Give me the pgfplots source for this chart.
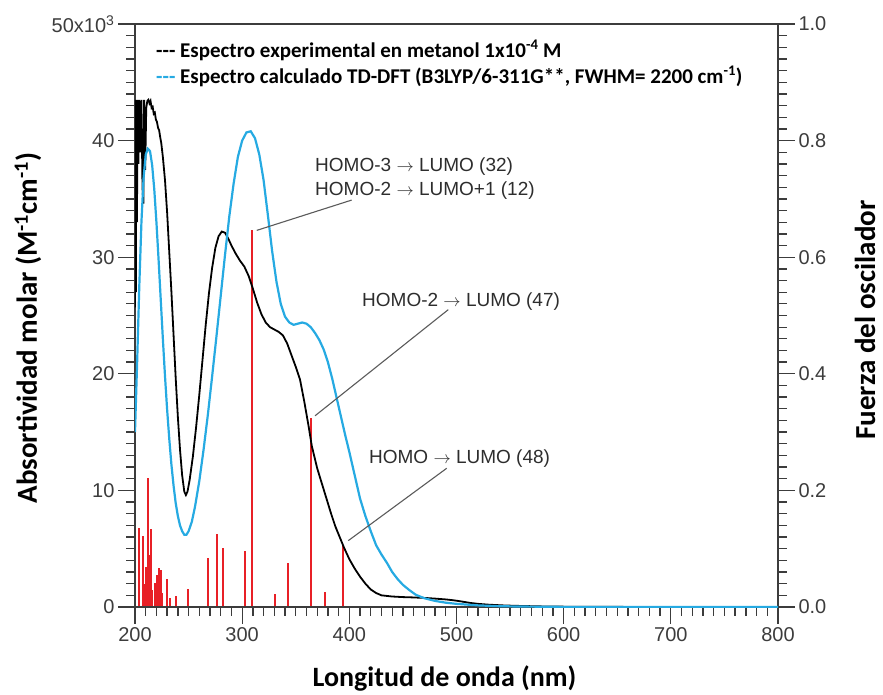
\documentclass[border=0pt]{standalone}
\usepackage{pgfplots}
\pgfplotsset{compat=1.18}
\usepackage{fontspec}
\setmainfont{Liberation Sans}
\newfontfamily\carl{Carlito}
\definecolor{cblue}{RGB}{38,170,226}
\definecolor{cred}{RGB}{232,32,38}
\definecolor{tickgray}{RGB}{60,60,60}
\definecolor{annogray}{RGB}{45,45,45}
\definecolor{leadgray}{RGB}{90,90,90}
\pgfplotsset{
  mybase/.style={
    scale only axis, width=643pt, height=583pt,
    xmin=200, xmax=800,
    tick align=inside,
    major tick length=-17pt, minor tick length=-9pt,
    every tick/.append style={line width=1.3pt, color=tickgray},
    major tick style={line width=1.3pt, color=tickgray},
    minor tick style={line width=1.3pt, color=tickgray},
    axis line style={line width=1.3pt, color=tickgray},
    tick label style={font=\fontsize{20}{24}\selectfont, text=tickgray},
    /pgf/number format/assume math mode=true,
  }
}
\begin{document}
\begin{tikzpicture}
\useasboundingbox (-135pt,-87pt) rectangle (748pt,607pt);
% right axis: oscillator strengths
\begin{axis}[mybase, at={(0pt,0pt)}, anchor=south west, axis y line*=right, hide x axis,
  ymin=0, ymax=1, ytick={0,0.2,0.4,0.6,0.8,1.0}, minor y tick num=9,
  yticklabel style={xshift=17pt, /pgf/number format/.cd, fixed, fixed zerofill, precision=1}]
\addplot[ycomb, cred, line width=1.8pt, mark=none] coordinates {
(203.7,0.136) (207.8,0.122) (209.0,0.040) (210.0,0.069) (211.8,0.222)
(213.0,0.090) (214.9,0.133) (216.0,0.030) (218.7,0.041) (220.5,0.055)
(221.5,0.036) (222.4,0.067) (224.0,0.064) (225.5,0.024) (229.9,0.048)
(232.4,0.015) (238.0,0.019) (249.8,0.031) (268.4,0.084) (276.2,0.125)
(281.8,0.102) (302.6,0.096) (308.9,0.646) (330.6,0.022) (342.4,0.076)
(364.2,0.324) (377.5,0.025) (394.3,0.107)
};
\end{axis}
% left axis: molar absorptivity
\begin{axis}[mybase, at={(0pt,0pt)}, anchor=south west, ymin=0, ymax=50,
  xtick={200,300,400,500,600,700,800}, ytick={0,10,20,30,40,50},
  yticklabels={0,10,20,30,40,{50x10\textsuperscript{3}}},
  xticklabel style={yshift=-17pt}, yticklabel style={xshift=-17pt},
  minor x tick num=9, minor y tick num=9,
  xtick pos=bottom, ytick pos=left]
\addplot[black, line width=1.8pt, mark=none] coordinates {
(200,25.7) (200.4,43.5) (200.8,27) (201.2,43.5) (201.8,33) (202.5,43.5)
(203.2,38) (204,43.5) (205,39) (206,43.5) (207,36) (207.8,34.6) (208.5,43.5)
(209.5,37.5) (210.5,42.8) (211.5,43.4) (212.5,43.5) (213.5,43.2) (214.5,43.4)
(215.5,42.8) (216.5,42.9) (217.5,42.3) (218.5,42.4) (219.5,41.8) (220.5,41.6)
(221.5,41.1) (222.5,40.9) (223.5,40.3) (224.5,39.8) (226,38.6) (228,36.6)
(230,33.8) (232,30.4) (234,27) (236,23.3) (238,19.6) (240,16.3) (242,13.5)
(244,11.3) (246,9.9) (247.5,9.6) (249,9.9) (251,10.9) (254,12.9) (257,15.4)
(260,18.2) (263,21.2) (266,24.2) (269,26.9) (272,29.1) (275,30.8) (278,31.8)
(281,32.2) (284,32.1) (287,31.6) (290,31.0) (294,30.3) (298,29.7) (302,29.2)
(306,28.4) (310,27.3) (314,26.1) (318,25.1) (322,24.4) (326,24.0) (330,23.8)
(334,23.6) (338,23.3) (342,22.6) (346,21.6) (350,20.6) (354,19.5) (358,17.6)
(362,15.5) (365,13.8) (370,11.9) (375,10.4) (379,9.2) (383,8.0) (387,6.9)
(391,6.0) (395,5.1) (400,4.1) (405,3.3) (410,2.6) (415,2.0) (420,1.5)
(425,1.2) (430,1.0) (440,0.9) (450,0.85) (460,0.82) (470,0.78) (480,0.72)
(490,0.65) (497,0.58) (505,0.47) (512,0.36) (520,0.27) (530,0.2) (545,0.13)
(560,0.09) (580,0.05) (600,0.03) (650,0.01) (700,0.0) (800,0.0)
};
\addplot[cblue, line width=2.2pt, mark=none] coordinates {
(200,15.0) (202,21) (204,27.5) (206,33) (208,36.8) (210,38.8) (212,39.3)
(214,39.1) (216,37.9) (218,35.8) (220,33.0) (222,29.8) (224,26.4) (226,23.0)
(228,19.8) (230,16.9) (232,14.4) (234,12.2) (236,10.4) (238,8.9) (240,7.8)
(242,7.0) (244,6.5) (246,6.2) (248,6.2) (250,6.5) (253,7.3) (256,8.6)
(260,10.8) (264,13.5) (268,16.5) (272,19.8) (276,23.2) (280,26.7) (284,30.2)
(288,33.5) (292,36.3) (296,38.6) (300,40.0) (304,40.7) (308,40.8) (312,40.2)
(316,38.8) (320,36.6) (324,33.6) (328,30.5) (332,27.9) (336,26.0) (340,24.9)
(344,24.4) (348,24.2) (352,24.3) (356,24.4) (360,24.3) (364,24.0) (368,23.5)
(372,22.9) (376,22.1) (380,21.0) (384,19.6) (388,18.0) (392,16.4) (396,14.8)
(400,13.3) (405,11.3) (410,9.3) (415,7.8) (420,6.5) (425,5.3) (430,4.5)
(435,3.8) (440,3.0) (445,2.4) (450,1.9) (456,1.45) (462,1.05) (470,0.75)
(480,0.52) (490,0.37) (500,0.27) (520,0.14) (540,0.07) (560,0.04) (600,0.01)
(700,0.0) (800,0.0)
};
% leader lines
\draw[leadgray, line width=1.1pt] (axis cs:402.2,34.9) -- (axis cs:313.6,32.3);
\draw[leadgray, line width=1.1pt] (axis cs:492.3,25.5) -- (axis cs:368,16.4);
\draw[leadgray, line width=1.1pt] (axis cs:490.9,11.9) -- (axis cs:399,5.69);
% annotations
\begin{scope}[every node/.style={anchor=base west, inner sep=0pt, text=annogray, font=\fontsize{19}{23}\selectfont}]
\node at (axis cs:368,37.31) {HOMO-3 $\rightarrow$ LUMO (32)};
\node at (axis cs:368,35.33) {HOMO-2 $\rightarrow$ LUMO+1 (12)};
\node at (axis cs:411.8,25.73) {HOMO-2 $\rightarrow$ LUMO (47)};
\node at (axis cs:418.3,12.35) {HOMO $\rightarrow$ LUMO (48)};
\end{scope}
% legend
\begin{scope}[every node/.style={anchor=base west, inner sep=0pt, font=\carl\bfseries\fontsize{21}{25}\selectfont}]
\node at (axis cs:219.6,47.17) {{-}{-}{-} Espectro experimental en metanol 1x10\textsuperscript{-4} M};
\node at (axis cs:219.6,44.94) {\textcolor{cblue}{{-}{-}{-}} Espectro calculado TD-DFT (B3LYP/6-311G**, FWHM= 2200 cm\textsuperscript{-1})};
\end{scope}
\end{axis}
% axis titles
\node[rotate=90, anchor=base, inner sep=0pt, font=\carl\bfseries\fontsize{29}{35}\selectfont]
  at (-98pt,279pt) {Absortividad molar (M\textsuperscript{-1}cm\textsuperscript{-1})};
\node[anchor=base, inner sep=0pt, font=\carl\bfseries\fontsize{28}{33}\selectfont]
  at (309.5pt,-79pt) {Longitud de onda (nm)};
\node[rotate=90, anchor=base, inner sep=0pt, font=\carl\bfseries\fontsize{29}{35}\selectfont]
  at (740pt,287pt) {Fuerza del oscilador};
\end{tikzpicture}
\end{document}
